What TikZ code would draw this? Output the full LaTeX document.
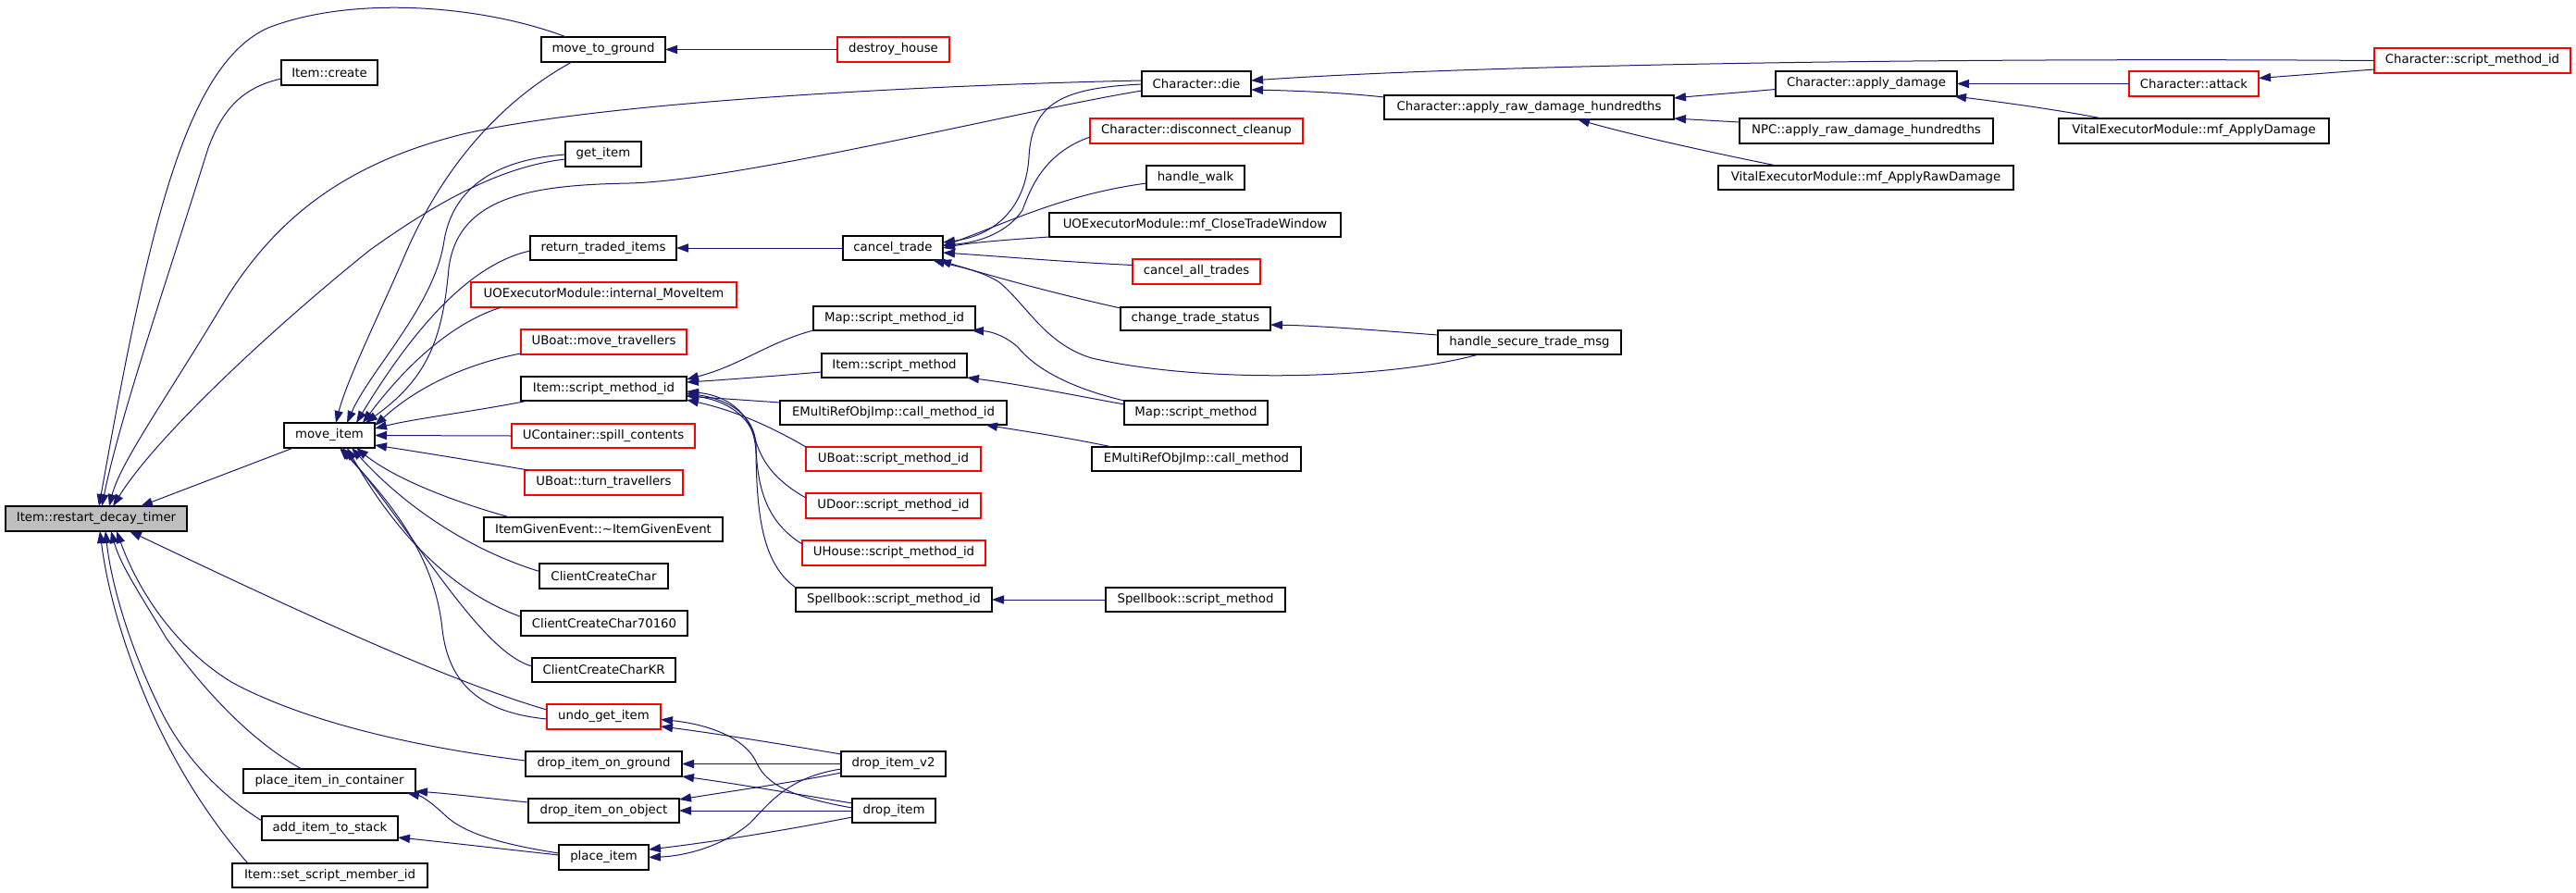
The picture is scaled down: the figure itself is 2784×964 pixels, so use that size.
\documentclass[tikz,border=0pt]{standalone}
\usepackage{fontspec}
\setmainfont{DejaVu Sans}
\usetikzlibrary{arrows.meta,calc}
\definecolor{edgeblue}{HTML}{191970}
\newcommand\mybox[7]{\node[#7,minimum width={(#4-#2)*0.5pt},minimum height={(#5-#3)*0.5pt}] (#1) at ({(#2+#4)/2},{(#3+#5)/2}) {#6};}
\begin{document}
\begin{tikzpicture}[x=0.5pt,y=-0.5pt,
  bx/.style={draw=black,fill=white,line width=0.6pt,inner sep=0pt,outer sep=0pt,font=\fontsize{6.65}{8}\selectfont},
  box/.style={bx},
  rbox/.style={bx,draw=red},
  gbox/.style={bx,fill=black!25},
  e/.style={draw=edgeblue,line width=0.5pt,-{Triangle[length=6.5pt,width=4.6pt]}}]
\useasboundingbox[fill=white] (0,0) rectangle (2784,964);
% nodes
\mybox{restart}{6}{547}{202}{574}{Item::restart\_decay\_timer}{gbox}
\mybox{mtg}{585}{40}{719}{67}{move\_to\_ground}{box}
\mybox{create}{304}{65}{408}{92}{Item::create}{box}
\mybox{getitem}{611}{153}{693}{180}{get\_item}{box}
\mybox{rti}{573}{255}{731}{281}{return\_traded\_items}{box}
\mybox{uoemove}{509}{305}{796}{332}{UOExecutorModule::internal\_MoveItem}{rbox}
\mybox{ubmove}{563}{356}{742}{383}{UBoat::move\_travellers}{rbox}
\mybox{ismid}{563}{407}{742}{433}{Item::script\_method\_id}{box}
\mybox{spill}{553}{458}{751}{484}{UContainer::spill\_contents}{rbox}
\mybox{moveitem}{307}{457}{405}{484}{move\_item}{box}
\mybox{ubturn}{567}{508}{738}{535}{UBoat::turn\_travellers}{rbox}
\mybox{ige}{523}{559}{781}{585}{ItemGivenEvent::\textasciitilde ItemGivenEvent}{box}
\mybox{ccc}{583}{609}{722}{636}{ClientCreateChar}{box}
\mybox{ccc7}{563}{660}{743}{687}{ClientCreateChar70160}{box}
\mybox{ccckr}{575}{711}{730}{737}{ClientCreateCharKR}{box}
\mybox{undo}{591}{761}{714}{788}{undo\_get\_item}{rbox}
\mybox{diog}{568}{812}{737}{839}{drop\_item\_on\_ground}{box}
\mybox{dioo}{571}{863}{734}{889}{drop\_item\_on\_object}{box}
\mybox{placeitem}{604}{913}{701}{940}{place\_item}{box}
\mybox{pic}{263}{831}{449}{857}{place\_item\_in\_container}{box}
\mybox{aits}{283}{882}{430}{908}{add\_item\_to\_stack}{box}
\mybox{ssmid}{251}{933}{462}{959}{Item::set\_script\_member\_id}{box}
\mybox{div2}{909}{812}{1022}{839}{drop\_item\_v2}{box}
\mybox{di}{921}{863}{1011}{889}{drop\_item}{box}
\mybox{destroy}{905}{40}{1026}{67}{destroy\_house}{rbox}
\mybox{cancel}{911}{255}{1019}{281}{cancel\_trade}{box}
\mybox{mapsmid}{879}{331}{1054}{357}{Map::script\_method\_id}{box}
\mybox{ism}{888}{382}{1045}{408}{Item::script\_method}{box}
\mybox{emrcmid}{843}{433}{1088}{459}{EMultiRefObjImp::call\_method\_id}{box}
\mybox{ubsmid}{871}{483}{1060}{509}{UBoat::script\_method\_id}{rbox}
\mybox{udsmid}{871}{533}{1060}{560}{UDoor::script\_method\_id}{rbox}
\mybox{uhsmid}{867}{584}{1065}{611}{UHouse::script\_method\_id}{rbox}
\mybox{sbsmid}{860}{635}{1072}{661}{Spellbook::script\_method\_id}{box}
\mybox{chdie}{1234}{77}{1352}{104}{Character::die}{box}
\mybox{discon}{1178}{128}{1408}{155}{Character::disconnect\_cleanup}{rbox}
\mybox{hwalk}{1239}{179}{1345}{205}{handle\_walk}{box}
\mybox{closetw}{1134}{230}{1449}{256}{UOExecutorModule::mf\_CloseTradeWindow}{box}
\mybox{cat}{1224}{280}{1362}{307}{cancel\_all\_trades}{rbox}
\mybox{cts}{1211}{332}{1373}{357}{change\_trade\_status}{box}
\mybox{mapsm}{1215}{433}{1370}{459}{Map::script\_method}{box}
\mybox{emrcm}{1180}{483}{1406}{509}{EMultiRefObjImp::call\_method}{box}
\mybox{sbsm}{1195}{635}{1389}{661}{Spellbook::script\_method}{box}
\mybox{hstm}{1554}{357}{1752}{383}{handle\_secure\_trade\_msg}{box}
\mybox{ardh}{1496}{103}{1809}{129}{Character::apply\_raw\_damage\_hundredths}{box}
\mybox{npc}{1880}{128}{2154}{155}{NPC::apply\_raw\_damage\_hundredths}{box}
\mybox{vrd}{1857}{179}{2176}{205}{VitalExecutorModule::mf\_ApplyRawDamage}{box}
\mybox{cad}{1919}{77}{2115}{104}{Character::apply\_damage}{box}
\mybox{vad}{2225}{128}{2517}{155}{VitalExecutorModule::mf\_ApplyDamage}{box}
\mybox{catk}{2301}{77}{2441}{104}{Character::attack}{rbox}
\mybox{csmid}{2566}{52}{2778}{79}{Character::script\_method\_id}{rbox}
% edges
\draw[e] (destroy.west) -- (mtg.east);
\draw[e] ($(mtg.north west)+(27,0)$) .. controls (520,5) and (380,-5) .. (290,30) .. controls (200,70) and (160,250) .. ($(restart.north west)+(101,0)$);
\draw[e] ($(create.south west)+(0,-7)$) .. controls (260,95) and (240,120) .. (225,160) .. controls (175,320) and (130,450) .. ($(restart.north west)+(104,0)$);
\draw[e] ($(chdie.north west)+(0,10)$) .. controls (1000,92) and (650,110) .. (500,145) .. controls (380,175) and (300,230) .. (240,330) .. controls (180,430) and (130,500) .. ($(restart.north west)+(112,0)$);
\draw[e] ($(getitem.south west)+(0,-8)$) .. controls (540,180) and (470,220) .. (400,270) .. controls (300,350) and (170,470) .. ($(restart.north west)+(116,0)$);
\draw[e] ($(moveitem.south west)+(10,0)$) -- ($(restart.north west)+(146,0)$);
\draw[e] ($(undo.north west)+(0,6)$) .. controls (480,735) and (300,650) .. ($(restart.south west)+(134,0)$);
\draw[e] ($(diog.north west)+(0,10)$) .. controls (430,805) and (320,775) .. (250,737) .. controls (190,700) and (150,640) .. ($(restart.south west)+(120,0)$);
\draw[e] ($(pic.north west)+(63,0)$) .. controls (270,800) and (220,745) .. (180,690) .. controls (150,640) and (130,610) .. ($(restart.south west)+(114,0)$);
\draw[e] ($(aits.north west)+(0,5)$) .. controls (240,860) and (200,820) .. (175,770) .. controls (140,700) and (120,630) .. ($(restart.south west)+(108,0)$);
\draw[e] ($(ssmid.north west)+(17,0)$) .. controls (230,890) and (190,830) .. (160,760) .. controls (130,690) and (115,630) .. ($(restart.south west)+(102,0)$);
% into move_item
\draw[e] ($(mtg.south west)+(33,0)$) .. controls (540,110) and (480,180) .. (440,270) .. controls (410,340) and (375,410) .. ($(moveitem.north west)+(56,0)$);
\draw[e] ($(getitem.north west)+(0,14)$) .. controls (540,172) and (490,200) .. (480,260) .. controls (470,330) and (400,400) .. ($(moveitem.north west)+(68,0)$);
\draw[e] ($(chdie.north west)+(0,21)$) .. controls (1100,120) and (800,195) .. (680,198) .. controls (580,200) and (495,210) .. (485,290) .. controls (478,370) and (460,410) .. ($(moveitem.north west)+(88,0)$);
\draw[e] ($(rti.west)+(0,3)$) .. controls (510,285) and (450,350) .. ($(moveitem.north west)+(78,0)$);
\draw[e] ($(uoemove.south west)+(33,0)$) .. controls (500,345) and (450,380) .. ($(moveitem.north east)+(-13,0)$);
\draw[e] ($(ubmove.south west)+(0,-1)$) .. controls (520,390) and (460,410) .. ($(moveitem.north east)+(0,3)$);
\draw[e] ($(ismid.south west)+(8,0)$) .. controls (510,445) and (450,452) .. ($(moveitem.north east)+(0,6)$);
\draw[e] (spill.west) -- (moveitem.east);
\draw[e] ($(ubturn.north west)+(4,0)$) .. controls (500,496) and (450,488) .. ($(moveitem.south east)+(0,-3)$);
\draw[e] ($(ige.north west)+(28,0)$) .. controls (500,545) and (430,520) .. ($(moveitem.south east)+(-20,0)$);
\draw[e] ($(ccc.west)+(0,-5)$) .. controls (510,595) and (440,550) .. ($(moveitem.south west)+(73,0)$);
\draw[e] ($(ccc7.west)+(0,-7)$) .. controls (490,640) and (430,580) .. ($(moveitem.south west)+(68,0)$);
\draw[e] ($(ccckr.west)+(0,-4)$) .. controls (520,705) and (450,580) .. ($(moveitem.south west)+(63,0)$);
\draw[e] ($(undo.south west)+(0,-11)$) .. controls (520,770) and (485,740) .. (478,680) .. controls (470,600) and (420,540) .. ($(moveitem.south west)+(60,0)$);
% cancel_trade
\draw[e] (cancel.west) -- (rti.east);
\draw[e] ($(chdie.north west)+(0,14)$) .. controls (1150,95) and (1115,110) .. (1112,170) .. controls (1108,230) and (1070,255) .. ($(cancel.north east)+(0,7)$);
\draw[e] ($(discon.south west)+(0,-7)$) .. controls (1130,165) and (1115,200) .. (1105,227) .. controls (1090,250) and (1060,262) .. ($(cancel.north east)+(0,10)$);
\draw[e] ($(hwalk.west)+(0,6)$) .. controls (1150,210) and (1090,240) .. ($(cancel.east)+(0,-2)$);
\draw[e] (closetw.south west) .. controls (1090,259) and (1050,262) .. (cancel.east);
\draw[e] ($(cat.west)+(0,-7)$) .. controls (1150,283) and (1080,277) .. ($(cancel.south east)+(0,-8)$);
\draw[e] ($(cts.north west)+(0,1)$) .. controls (1130,315) and (1060,295) .. ($(cancel.south east)+(-4,0)$);
\draw[e] ($(hstm.south west)+(44,0)$) .. controls (1500,410) and (1300,415) .. (1180,387) .. controls (1130,372) and (1110,330) .. (1080,305) .. controls (1060,292) and (1030,287) .. ($(cancel.south east)+(-11,0)$);
\draw[e] ($(hstm.north west)+(0,5)$) .. controls (1500,358) and (1430,352) .. ($(cts.south east)+(0,-6)$);
% Character
\draw[e] ($(ardh.north west)+(0,2)$) .. controls (1450,100) and (1400,98) .. ($(chdie.south east)+(0,-7)$);
\draw[e] (csmid.west) .. controls (2100,62) and (1600,70) .. ($(chdie.north east)+(0,10)$);
\draw[e] ($(csmid.south west)+(0,-4)$) -- ($(catk.east)+(0,-6)$);
\draw[e] (catk.west) -- (cad.east);
\draw[e] ($(vad.north west)+(47,0)$) .. controls (2220,118) and (2160,110) .. ($(cad.south east)+(-3,0)$);
\draw[e] ($(cad.west)+(0,6)$) .. controls (1880,100) and (1840,103) .. ($(ardh.east)+(0,-10)$);
\draw[e] ($(npc.north west)+(0,4)$) -- ($(ardh.east)+(0,12)$);
\draw[e] ($(vrd.north west)+(63,0)$) .. controls (1850,165) and (1760,145) .. ($(ardh.south west)+(209,0)$);
% Item::script_method_id
\draw[e] (mapsmid.south west) .. controls (830,370) and (800,395) .. ($(ismid.north east)+(0,3)$);
\draw[e] ($(ism.west)+(0,7)$) .. controls (840,406) and (790,410) .. ($(ismid.north east)+(0,6)$);
\draw[e] ($(emrcmid.north west)+(0,2)$) .. controls (800,432) and (770,430) .. ($(ismid.south east)+(0,-5)$);
\draw[e] (ubsmid.north west) .. controls (840,465) and (800,445) .. ($(ismid.south east)+(0,-1)$);
\draw[e] ($(udsmid.north west)+(0,5)$) .. controls (830,515) and (820,490) .. (815,470) .. controls (805,445) and (780,432) .. ($(ismid.south east)+(0,-6)$);
\draw[e] ($(uhsmid.north west)+(0,4)$) .. controls (830,565) and (818,530) .. (817,480) .. controls (815,450) and (790,432) .. ($(ismid.south east)+(0,-8)$);
\draw[e] (sbsmid.north west) .. controls (825,610) and (818,560) .. (817,490) .. controls (816,450) and (790,428) .. ($(ismid.south east)+(0,-10)$);
\draw[e] (mapsm.north west) .. controls (1160,420) and (1120,400) .. (1100,375) .. controls (1085,362) and (1070,358) .. ($(mapsmid.south east)+(-4,0)$);
\draw[e] ($(mapsm.north west)+(0,4)$) .. controls (1150,425) and (1100,415) .. (ism.south east);
\draw[e] ($(emrcm.north west)+(22,0)$) .. controls (1150,472) and (1100,465) .. ($(emrcmid.south east)+(-23,0)$);
\draw[e] (sbsm.west) -- (sbsmid.east);
% drops
\draw[e] ($(div2.north west)+(0,3)$) .. controls (850,805) and (770,792) .. ($(undo.south east)+(0,-3)$);
\draw[e] ($(di.north west)+(0,10)$) .. controls (860,862) and (830,850) .. (818,825) .. controls (805,795) and (760,782) .. ($(undo.east)+(0,3)$);
\draw[e] (div2.west) -- (diog.east);
\draw[e] ($(di.north west)+(0,5)$) .. controls (860,858) and (790,846) .. (diog.south east);
\draw[e] ($(div2.south west)+(0,-4)$) .. controls (860,845) and (790,855) .. ($(dioo.north east)+(0,1)$);
\draw[e] (di.west) -- (dioo.east);
\draw[e] ($(di.south west)+(0,-6)$) .. controls (850,897) and (770,910) .. ($(placeitem.north east)+(0,5)$);
\draw[e] ($(div2.south west)+(0,-8)$) .. controls (850,840) and (830,870) .. (810,890) .. controls (780,915) and (740,925) .. (placeitem.east);
\draw[e] ($(dioo.north west)+(0,4)$) .. controls (530,863) and (490,858) .. ($(pic.south east)+(0,-2)$);
\draw[e] ($(placeitem.north west)+(0,9)$) .. controls (540,912) and (500,900) .. (480,880) .. controls (465,866) and (455,860) .. ($(pic.south east)+(-9,0)$);
\draw[e] ($(placeitem.north west)+(0,11)$) .. controls (540,917) and (480,910) .. ($(aits.south east)+(0,-3)$);
\end{tikzpicture}
\end{document}
